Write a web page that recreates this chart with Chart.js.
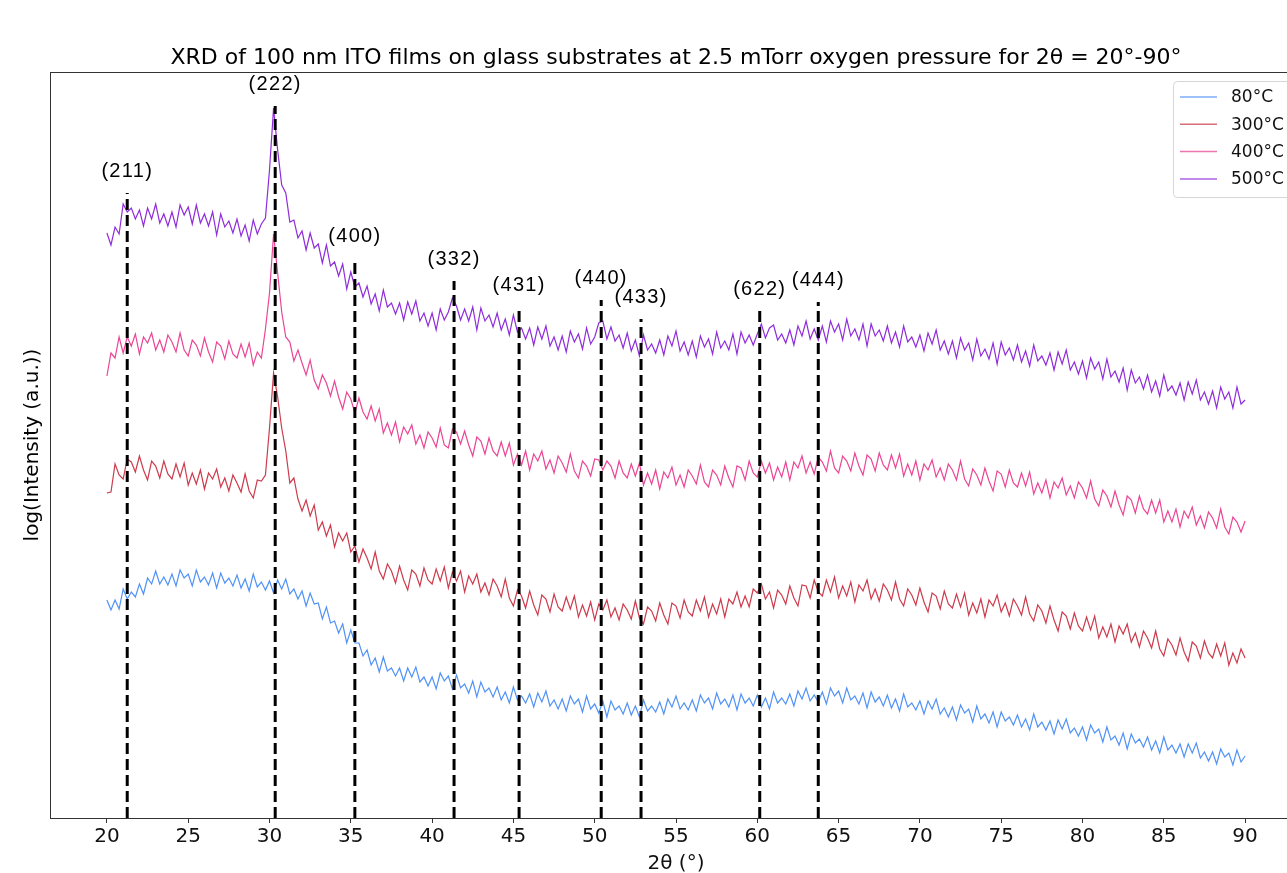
<!DOCTYPE html>
<html>
<head>
<meta charset="utf-8">
<title>XRD of ITO films</title>
<script src="https://cdn.jsdelivr.net/npm/chart.js@4.4.1/dist/chart.umd.min.js"></script>
<style>
  html, body { margin: 0; padding: 0; background: #fff; overflow: hidden; }
  #wrap { position: absolute; left: 0; top: 0; width: 1310px; height: 873px; }
</style>
</head>
<body>
<div id="wrap"><canvas id="xrdChart" width="1310" height="873"></canvas></div>
<script>
// XRD scans, 2theta from 20 to 90 deg, sampled every 0.25 deg
// values are log intensity in arbitrary units (offset per temperature)
const twoTheta = Array.from({ length: 281 }, (_, i) => 20 + i * 0.25);
const xTicks = [20, 25, 30, 35, 40, 45, 50, 55, 60, 65, 70, 75, 80, 85, 90];

const seriesNames = ['80°C', '300°C', '400°C', '500°C'];
const seriesColors = ['rgba(62,134,245,0.9)', 'rgba(200,38,58,0.9)', 'rgba(232,50,138,0.9)', 'rgba(132,22,214,0.9)'];

const i500 = [
  585, 573, 591, 584, 614, 606, 610, 599, 608, 592, 610, 599, 614, 595, 604, 592,
  606, 591, 613, 603, 611, 594, 613, 595, 604, 592, 606, 583, 604, 591, 597, 585,
  599, 582, 593, 577, 598, 584, 594, 600, 648, 710, 668, 633, 625, 596, 598, 580,
  587, 568, 585, 570, 574, 555, 573, 552, 556, 542, 554, 529, 546, 531, 535, 521,
  532, 514, 524, 507, 528, 511, 515, 504, 515, 498, 516, 504, 517, 497, 505, 492,
  505, 488, 509, 498, 506, 520, 512, 498, 509, 497, 511, 488, 510, 497, 503, 491,
  505, 488, 499, 483, 503, 486, 490, 479, 490, 473, 491, 479, 492, 472, 481, 468,
  482, 466, 487, 476, 484, 469, 490, 474, 481, 495, 497, 479, 491, 477, 483, 470,
  485, 467, 478, 462, 483, 468, 474, 465, 478, 463, 482, 472, 487, 467, 476, 463,
  477, 461, 482, 471, 479, 464, 486, 470, 477, 468, 484, 464, 486, 475, 483, 473,
  484, 494, 480, 490, 493, 478, 484, 475, 488, 473, 492, 482, 497, 479, 489, 478,
  492, 476, 497, 486, 494, 478, 499, 482, 489, 478, 494, 472, 494, 482, 488, 477,
  492, 475, 486, 471, 492, 476, 481, 471, 483, 467, 485, 474, 488, 468, 477, 464,
  477, 460, 480, 468, 475, 458, 479, 462, 469, 459, 475, 454, 476, 463, 470, 458,
  473, 456, 467, 452, 473, 457, 462, 453, 465, 448, 466, 454, 468, 448, 456, 444,
  457, 440, 460, 449, 456, 439, 459, 441, 447, 436, 450, 428, 448, 435, 441, 429,
  443, 426, 437, 422, 443, 427, 432, 423, 435, 418, 436, 424, 438, 418, 426, 414,
  427, 410, 431, 419, 426, 410, 431, 414, 418
];

const i400 = [
  442, 465, 460, 481, 465, 481, 472, 484, 464, 481, 475, 485, 468, 478, 466, 483,
  476, 466, 485, 468, 462, 478, 473, 462, 480, 466, 456, 476, 472, 459, 477, 464,
  460, 474, 461, 475, 453, 466, 460, 489, 525, 584, 545, 506, 481, 476, 457, 468,
  455, 443, 458, 438, 429, 443, 435, 422, 437, 421, 409, 426, 419, 405, 420, 406,
  399, 412, 397, 409, 385, 395, 383, 396, 376, 391, 384, 393, 374, 383, 370, 386,
  380, 371, 390, 373, 370, 389, 386, 374, 387, 373, 362, 381, 377, 364, 380, 367,
  362, 376, 362, 375, 353, 364, 353, 367, 348, 364, 357, 367, 349, 358, 345, 362,
  355, 346, 364, 347, 340, 357, 352, 342, 359, 358, 348, 357, 352, 340, 357, 345,
  340, 354, 342, 355, 333, 345, 334, 348, 329, 346, 340, 351, 333, 343, 331, 348,
  342, 334, 353, 336, 331, 348, 343, 333, 352, 340, 331, 352, 350, 338, 357, 345,
  341, 357, 345, 355, 338, 351, 341, 356, 338, 356, 350, 362, 345, 356, 344, 361,
  356, 347, 367, 350, 345, 362, 357, 347, 365, 352, 343, 363, 359, 347, 365, 353,
  348, 363, 350, 364, 342, 354, 343, 357, 338, 354, 348, 358, 341, 350, 338, 354,
  348, 338, 357, 339, 332, 349, 343, 333, 350, 337, 327, 347, 344, 331, 348, 335,
  331, 345, 332, 346, 324, 335, 325, 338, 320, 336, 330, 340, 323, 332, 320, 336,
  330, 320, 337, 319, 312, 328, 322, 311, 327, 313, 303, 322, 318, 305, 322, 309,
  304, 318, 305, 318, 296, 307, 296, 309, 291, 307, 300, 311, 293, 302, 290, 306,
  300, 290, 309, 291, 284, 301, 296, 286, 297
];

const i300 = [
  325, 326, 354, 343, 339, 359, 356, 346, 362, 348, 338, 357, 352, 340, 357, 344,
  339, 354, 341, 355, 333, 345, 334, 348, 329, 345, 339, 349, 331, 340, 327, 343,
  335, 326, 344, 327, 320, 338, 337, 343, 390, 445, 421, 390, 367, 335, 340, 319,
  307, 318, 302, 313, 288, 296, 282, 293, 271, 285, 277, 285, 266, 272, 256, 269,
  260, 249, 266, 247, 239, 254, 247, 235, 252, 238, 228, 248, 244, 232, 250, 238,
  234, 249, 237, 251, 230, 246, 237, 247, 226, 242, 234, 244, 226, 235, 223, 239,
  232, 221, 239, 220, 212, 228, 222, 210, 227, 213, 203, 223, 219, 206, 224, 211,
  207, 221, 209, 222, 201, 213, 202, 216, 198, 214, 208, 218, 201, 210, 198, 214,
  208, 199, 217, 200, 194, 211, 207, 197, 215, 203, 194, 215, 212, 200, 218, 206,
  202, 218, 207, 221, 201, 214, 204, 219, 201, 219, 214, 226, 211, 222, 211, 229,
  225, 234, 219, 226, 210, 228, 223, 214, 232, 220, 212, 233, 232, 220, 238, 226,
  222, 238, 226, 241, 220, 232, 222, 236, 216, 233, 227, 238, 219, 229, 217, 234,
  228, 218, 236, 219, 212, 229, 223, 213, 230, 216, 206, 225, 222, 209, 227, 214,
  210, 224, 211, 225, 203, 215, 205, 219, 201, 218, 212, 223, 206, 215, 202, 219,
  212, 203, 221, 204, 197, 213, 207, 195, 212, 198, 187, 206, 202, 189, 205, 192,
  187, 201, 188, 202, 180, 191, 181, 194, 176, 192, 184, 194, 176, 185, 171, 187,
  180, 170, 187, 169, 162, 179, 173, 163, 180, 166, 157, 176, 172, 160, 177, 165,
  160, 174, 162, 175, 153, 165, 155, 169, 160
];

const i80 = [
  218, 208, 218, 209, 229, 219, 226, 221, 234, 224, 240, 234, 247, 234, 241, 233,
  244, 232, 248, 240, 244, 232, 248, 236, 241, 233, 245, 230, 245, 235, 240, 232,
  243, 230, 239, 227, 244, 231, 236, 228, 237, 225, 238, 229, 239, 224, 229, 219,
  227, 212, 225, 214, 215, 199, 211, 195, 197, 185, 194, 175, 188, 175, 175, 162,
  168, 153, 160, 146, 161, 147, 150, 142, 150, 137, 150, 141, 151, 136, 141, 132,
  141, 129, 145, 137, 142, 129, 143, 130, 134, 125, 137, 121, 136, 126, 130, 121,
  131, 118, 126, 115, 131, 118, 122, 115, 124, 111, 125, 116, 127, 112, 118, 109,
  119, 107, 122, 114, 119, 106, 122, 109, 114, 105, 117, 101, 117, 108, 112, 104,
  115, 103, 112, 101, 118, 107, 112, 106, 116, 104, 119, 111, 122, 109, 115, 108,
  118, 107, 123, 115, 120, 109, 125, 114, 119, 111, 123, 108, 124, 115, 120, 112,
  123, 111, 120, 109, 126, 115, 120, 114, 124, 112, 127, 119, 130, 117, 123, 116,
  126, 114, 130, 122, 127, 115, 130, 118, 122, 114, 125, 110, 126, 116, 121, 112,
  123, 110, 119, 107, 124, 111, 115, 108, 117, 104, 117, 109, 119, 104, 110, 101,
  111, 98, 113, 105, 109, 96, 112, 99, 104, 95, 106, 91, 106, 97, 101, 93,
  103, 91, 99, 88, 104, 91, 96, 88, 97, 84, 98, 89, 99, 85, 90, 82,
  91, 78, 93, 85, 89, 76, 91, 78, 82, 73, 85, 69, 84, 75, 79, 71,
  81, 68, 77, 65, 81, 68, 73, 65, 74, 61, 74, 65, 75, 60, 66, 57,
  66, 54, 69, 61, 65, 53, 68, 56, 62
];

// reflections of the In2O3 bixbyite lattice marked on the plot
const peakNames = ['(211)', '(222)', '(400)', '(332)', '(431)', '(440)', '(433)', '(622)', '(444)'];
const peakPos = [21.25, 30.35, 35.25, 41.35, 45.35, 50.4, 52.85, 60.15, 63.75];
const peakTop = [625, 712, 560, 537, 511, 518, 499, 507, 516];

const yMax = 746;

const seriesData = [i80, i300, i400, i500];
const datasets = seriesData.map((vals, k) => ({
  label: seriesNames[k],
  data: twoTheta.map((t, i) => ({ x: t, y: vals[i] })),
  borderColor: seriesColors[k],
  borderWidth: 1.2,
  pointRadius: 0,
  tension: 0,
  order: 5 - k
}));

peakPos.forEach((p, i) => {
  datasets.push({
    label: peakNames[i],
    data: [{ x: p, y: 0 }, { x: p, y: peakTop[i] }],
    borderColor: '#000',
    borderWidth: 3,
    borderDash: [11, 5],
    pointRadius: 0,
    order: 0
  });
});

const overlay = {
  id: 'overlay',
  afterDraw(chart) {
    const { ctx, chartArea: a, scales } = chart;
    const x = scales.x, y = scales.y;
    ctx.save();

    // axes frame
    ctx.strokeStyle = '#333';
    ctx.lineWidth = 1;
    ctx.strokeRect(a.left + 0.5, a.top + 0.5, a.right - a.left, a.bottom - a.top);

    // hkl labels
    ctx.fillStyle = '#000';
    ctx.textAlign = 'center';
    ctx.textBaseline = 'middle';
    ctx.font = '20px "Liberation Sans", Arial, sans-serif';
    ctx.letterSpacing = '1.3px';
    peakNames.forEach((n, i) => {
      ctx.fillText(n, x.getPixelForValue(peakPos[i]), y.getPixelForValue(peakTop[i]) - 22);
    });
    ctx.letterSpacing = '0px';

    // title
    ctx.font = '22px "DejaVu Sans", sans-serif';
    ctx.fillText('XRD of 100 nm ITO films on glass substrates at 2.5 mTorr oxygen pressure for 2θ = 20°-90°', (a.left + a.right) / 2, 58);

    // y label
    ctx.font = '20px "DejaVu Sans", sans-serif';
    ctx.save();
    ctx.translate(33, (a.top + a.bottom) / 2);
    ctx.rotate(-Math.PI / 2);
    ctx.fillText('log(Intensity (a.u.))', 0, 0);
    ctx.restore();

    // legend, upper right
    const bx = a.right - 129, by = a.top + 9, bw = 123, bh = 116;
    ctx.fillStyle = 'rgba(255,255,255,0.85)';
    ctx.strokeStyle = '#d6d6d6';
    ctx.beginPath();
    ctx.roundRect(bx + 0.5, by + 0.5, bw, bh, 4);
    ctx.fill();
    ctx.stroke();
    ctx.font = '17px "DejaVu Sans", sans-serif';
    ctx.textAlign = 'left';
    seriesNames.forEach((n, k) => {
      const ry = by + 16 + k * 27.3;
      ctx.strokeStyle = seriesColors[k];
      ctx.globalAlpha = 0.75;
      ctx.lineWidth = 1.5;
      ctx.beginPath();
      ctx.moveTo(bx + 7, ry);
      ctx.lineTo(bx + 44, ry);
      ctx.stroke();
      ctx.globalAlpha = 1;
      ctx.fillStyle = '#111';
      ctx.fillText(n, bx + 58, ry + 1);
    });
    ctx.restore();
  }
};

new Chart(document.getElementById('xrdChart'), {
  type: 'line',
  data: { datasets: datasets },
  options: {
    responsive: false,
    animation: false,
    layout: { padding: { left: 50, right: 8, top: 72, bottom: 0 } },
    plugins: { legend: { display: false }, tooltip: { enabled: false }, title: { display: false } },
    scales: {
      x: {
        type: 'linear',
        min: 16.5,
        max: 93.5,
        afterBuildTicks: (s) => { s.ticks = xTicks.map(v => ({ value: v })); },
        afterFit: (s) => { s.height = 55; },
        grid: { drawOnChartArea: false, drawTicks: true, tickLength: 5, color: '#333' },
        border: { display: false },
        ticks: { color: '#111', font: { family: 'DejaVu Sans', size: 20 }, padding: 2, maxRotation: 0 },
        title: { display: true, text: '2θ (°)', color: '#111', font: { family: 'DejaVu Sans', size: 20 }, padding: { top: 0, bottom: -3 } }
      },
      y: {
        display: false,
        min: 0,
        max: yMax
      }
    }
  },
  plugins: [overlay]
});
</script>
</body>
</html>
